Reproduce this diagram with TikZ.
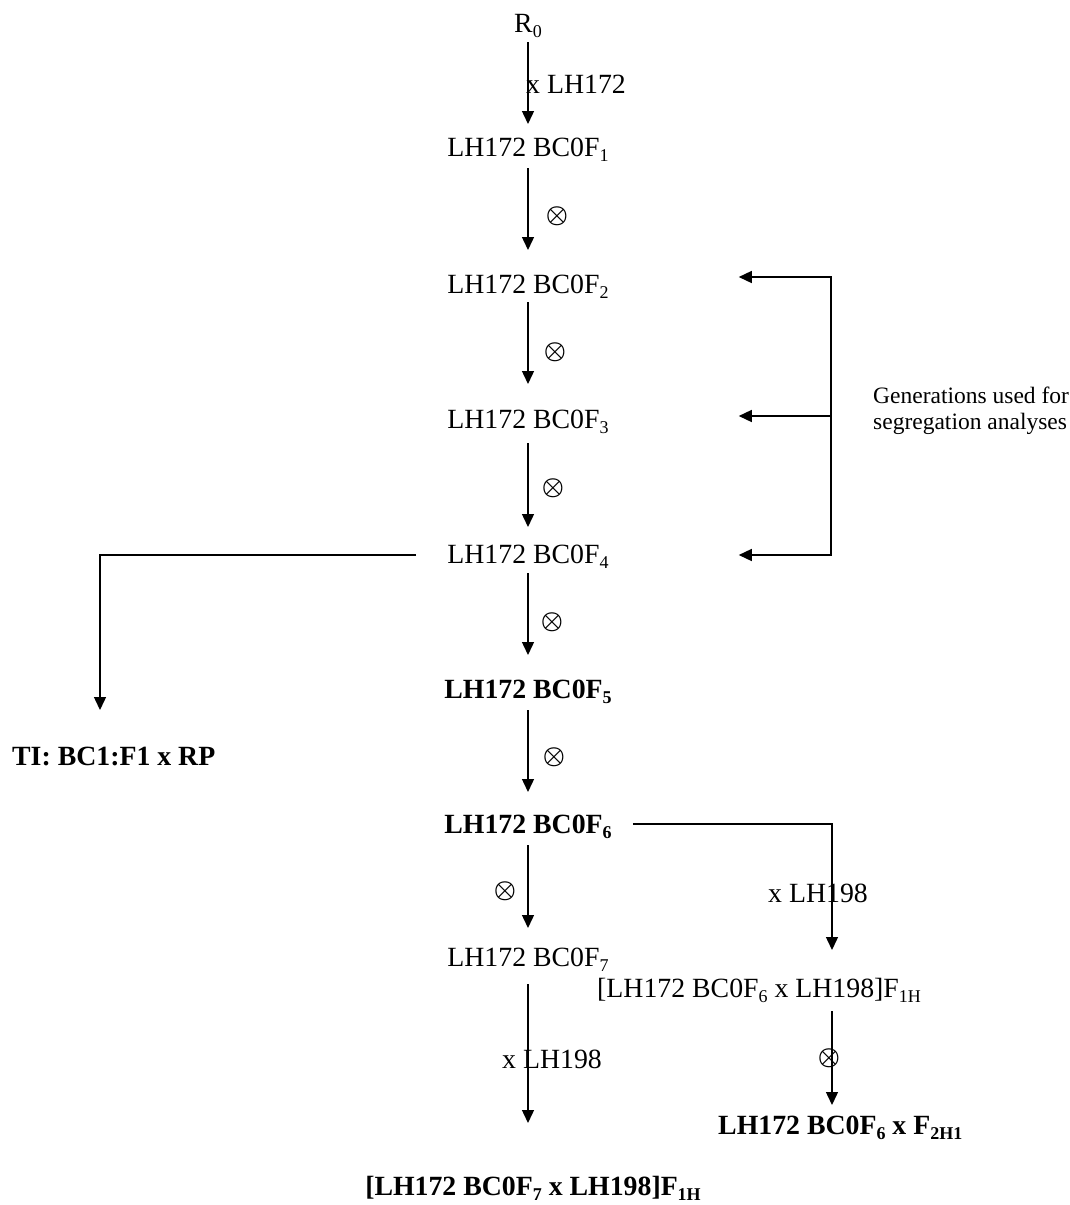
\documentclass[tikz,border=0pt]{standalone}
\usepackage{fontspec}
\setmainfont{Liberation Serif}
\usetikzlibrary{arrows.meta,calc}
\newcommand\lowsub[1]{\raisebox{-0.18em}{\fontsize{18}{18}\selectfont #1}}
\begin{document}
\begin{tikzpicture}[x=1pt,y=-1pt,
  txt/.style={inner sep=0pt, anchor=base, font=\fontsize{27.8}{33}\selectfont},
  bl/.style={txt, font=\fontsize{27.8}{33}\selectfont\bfseries},
  note/.style={inner sep=0pt, anchor=west, align=left, font=\fontsize{23.5}{26}\selectfont},
  sym/.style={inner sep=0pt, font=\fontsize{36}{38}\selectfont\boldmath},
  arr/.style={line width=1.4pt, -{Triangle[length=13pt,width=12pt]}},
  darr/.style={line width=1.4pt, {Triangle[length=13pt,width=12pt]}-{Triangle[length=13pt,width=12pt]}},
  ln/.style={line width=1.4pt}]
\useasboundingbox (0,0) rectangle (1070,1205);

% main column
\node[txt] (r0) at (528,32) {R\lowsub{0}};
\node[txt] (f1) at (528,156) {LH172 BC0F\lowsub{1}};
\node[txt] (f2) at (528,293) {LH172 BC0F\lowsub{2}};
\node[txt] (f3) at (528,428) {LH172 BC0F\lowsub{3}};
\node[txt] (f4) at (528,563) {LH172 BC0F\lowsub{4}};
\node[bl]  (f5) at (528,698) {LH172 BC0F\lowsub{5}};
\node[bl]  (f6) at (528,833) {LH172 BC0F\lowsub{6}};
\node[txt] (f7) at (528,966) {LH172 BC0F\lowsub{7}};
\node[bl]  (fin) at (533,1195) {[LH172 BC0F\lowsub{7} x LH198]F\lowsub{1H}};

% side nodes
\node[txt, anchor=base west] (h1) at (597,997) {[LH172 BC0F\lowsub{6} x LH198]F\lowsub{1H}};
\node[bl, anchor=base west] (h2) at (718,1134) {LH172 BC0F\lowsub{6} x F\lowsub{2H1}};
\node[bl, anchor=base west] (ti) at (12,765) {TI: BC1:F1 x RP};
\node[note] (gen) at (873,411) {Generations used for\\segregation analyses};

% labels
\node[txt, anchor=base west] (l1) at (526,93) {x LH172};
\node[txt, anchor=base west] (l2) at (768,902) {x LH198};
\node[txt, anchor=base west] (l3) at (502,1068) {x LH198};
\node[sym] (o1) at (557,216) {$\otimes$};
\node[sym] (o2) at (555,352) {$\otimes$};
\node[sym] (o3) at (553,488) {$\otimes$};
\node[sym] (o4) at (552,622) {$\otimes$};
\node[sym] (o5) at (554,757) {$\otimes$};
\node[sym] (o6) at (505,891) {$\otimes$};
\node[sym] (o7) at (829,1058) {$\otimes$};

% main arrows
\draw[arr] ($(r0.base)+(0,10)$) -- ($(f1.base)+(0,-32)$);
\draw[arr] ($(f1.base)+(0,12)$) -- ($(f2.base)+(0,-43)$);
\draw[arr] ($(f2.base)+(0,9)$) -- ($(f3.base)+(0,-44)$);
\draw[arr] ($(f3.base)+(0,15)$) -- ($(f4.base)+(0,-36)$);
\draw[arr] ($(f4.base)+(0,10)$) -- ($(f5.base)+(0,-43)$);
\draw[arr] ($(f5.base)+(0,12)$) -- ($(f6.base)+(0,-41)$);
\draw[arr] ($(f6.base)+(0,12)$) -- ($(f7.base)+(0,-38)$);
\draw[arr] ($(f7.base)+(0,18)$) -- ($(f7.base |- fin.base)+(0,-72)$);

% branches
\draw[arr] ($(f4.base west)+(-31,-8)$) -| ($(ti.base west)+(88,-55)$);
\draw[arr] ($(f6.base east)+(21,-9)$) -| ($(h1.base west)+(235,-47)$);
\draw[arr] ($(h1.base west)+(235,14)$) -- ($(h2.base west)+(114,-29)$);

% bracket
\coordinate (gt) at (831,277);
\coordinate (gm) at (831,416);
\coordinate (gb) at (831,555);
\draw[darr] ($(f2.base east)+(130,-16)$) -- (gt) -- (gb) -- ($(f4.base east)+(130,-8)$);
\draw[arr] (gm) -- ($(f3.base east)+(130,-12)$);
\end{tikzpicture}
\end{document}
